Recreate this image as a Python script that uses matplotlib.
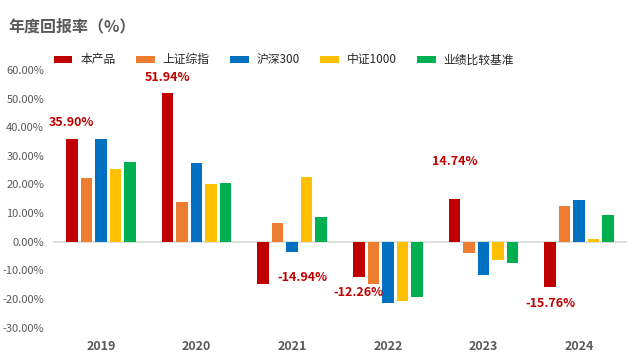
import matplotlib
matplotlib.use("Agg")
import matplotlib.pyplot as plt
import numpy as np

plt.rcParams['font.family'] = ['Noto Sans CJK SC', 'DejaVu Sans']

years = ["2019", "2020", "2021", "2022", "2023", "2024"]
series_names = ["本产品", "上证综指", "沪深300", "中证1000", "业绩比较基准"]

product = [35.90, 51.94, -14.94, -12.26, 14.74, -15.76]
sse = [22.3, 13.9, 6.5, -14.8, -3.8, 12.4]
csi300 = [35.8, 27.4, -3.5, -21.6, -11.5, 14.5]
csi1000 = [25.3, 20.1, 22.5, -20.9, -6.3, 1.0]
benchmark = [27.8, 20.5, 8.6, -19.2, -7.3, 9.3]

colors = ["#C00000", "#ED7D31", "#0070C0", "#FFC000", "#00B050"]

# label offsets (pixels) for the product's data labels
label_offsets = [(0, 16), (0, 16), (39, 7), (0, -16), (0, 38), (0, -17)]

fig = plt.figure(figsize=(6.4, 3.6), dpi=100)
ax = fig.add_axes([53/640, 1 - 327.5/360, 574/640, 257.5/360])

x = np.arange(len(years))
pitch = 0.1515
width = 0.12
all_series = [product, sse, csi300, csi1000, benchmark]
for k, (vals, name, c) in enumerate(zip(all_series, series_names, colors)):
    ax.bar(x + (k - 2) * pitch, vals, width, color=c, label=name, zorder=2)

for i, v in enumerate(product):
    dx, dy = label_offsets[i]
    ax.annotate(f"{v:.2f}%", xy=(x[i] - 2 * pitch, v), xytext=(dx, dy),
                textcoords='offset pixels', ha='center', va='center',
                color="#C00000", fontsize=9, fontweight='bold', zorder=5)

ax.axhline(0, color="#D9D9D9", lw=1.2, zorder=1)
ax.set_xlim(-0.5, len(years) - 0.5)
ax.set_ylim(-30, 60)
ax.set_yticks(np.arange(-30, 61, 10))
ax.set_yticklabels([f"{t:.2f}%" for t in np.arange(-30, 61, 10)])
ax.set_xticks(x)
ax.set_xticklabels(years, fontweight='bold')
ax.tick_params(axis='y', length=0, pad=6.5, labelsize=8, labelcolor="#595959")
ax.tick_params(axis='x', length=0, pad=9, labelsize=9, labelcolor="#595959")
for s in ax.spines.values():
    s.set_visible(False)

fig.text(8/640, 1 - 26/360, "年度回报率（%）", fontsize=11.5, fontweight='bold',
         color="#595959", ha='left', va='center')

leg = fig.legend(loc='center left', bbox_to_anchor=(54/640, 1 - 60/360), ncol=5,
                 frameon=False, prop={'size': 8.5, 'weight': 'medium'},
                 handlelength=1.55, handleheight=0.5,
                 handletextpad=0.68, columnspacing=1.75, borderpad=0, borderaxespad=0)
for t in leg.get_texts():
    t.set_color("#262626")

fig.savefig("out.png", dpi=100)
